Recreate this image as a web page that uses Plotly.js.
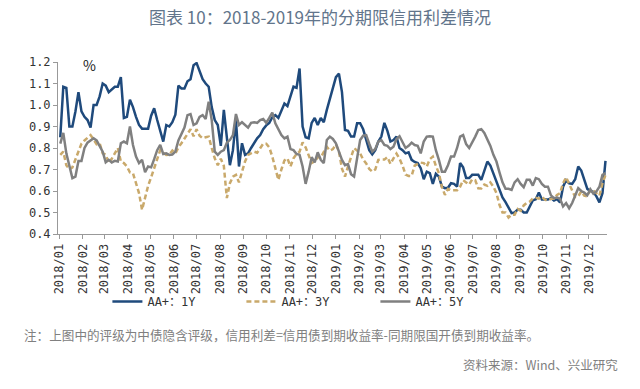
<!DOCTYPE html>
<html>
<head>
<meta charset="utf-8">
<script src="https://cdn.plot.ly/plotly-3.0.1.min.js"></script>
<style>html,body{margin:0;padding:0;background:#fff;}#chart{width:640px;height:389px;}</style>
</head>
<body>
<div id="chart"></div>
<script>
var dates = [
"2018-01-02","2018-01-06","2018-01-10","2018-01-14","2018-01-18","2018-01-22","2018-01-26","2018-01-30",
"2018-02-03","2018-02-07","2018-02-11","2018-02-15","2018-02-19","2018-02-23","2018-02-27",
"2018-03-03","2018-03-07","2018-03-11","2018-03-15","2018-03-19","2018-03-23","2018-03-27","2018-03-31",
"2018-04-04","2018-04-08","2018-04-12","2018-04-16","2018-04-20","2018-04-24","2018-04-28",
"2018-05-02","2018-05-06","2018-05-10","2018-05-14","2018-05-18","2018-05-22","2018-05-26","2018-05-30",
"2018-06-03","2018-06-07","2018-06-11","2018-06-15","2018-06-19","2018-06-23","2018-06-27",
"2018-07-01","2018-07-05","2018-07-09","2018-07-13","2018-07-17","2018-07-21","2018-07-25","2018-07-29",
"2018-08-02","2018-08-06","2018-08-10","2018-08-14","2018-08-18","2018-08-22","2018-08-26","2018-08-30",
"2018-09-03","2018-09-07","2018-09-11","2018-09-15","2018-09-19","2018-09-23","2018-09-27",
"2018-10-01","2018-10-05","2018-10-09","2018-10-13","2018-10-17","2018-10-21","2018-10-25","2018-10-29",
"2018-11-02","2018-11-06","2018-11-10","2018-11-14","2018-11-18","2018-11-22","2018-11-26","2018-11-30",
"2018-12-04","2018-12-08","2018-12-12","2018-12-16","2018-12-20","2018-12-24","2018-12-28",
"2019-01-01","2019-01-05","2019-01-09","2019-01-13","2019-01-17","2019-01-21","2019-01-25","2019-01-29",
"2019-02-02","2019-02-06","2019-02-10","2019-02-14","2019-02-18","2019-02-22","2019-02-26",
"2019-03-02","2019-03-06","2019-03-10","2019-03-14","2019-03-18","2019-03-22","2019-03-26","2019-03-30",
"2019-04-03","2019-04-07","2019-04-11","2019-04-15","2019-04-19","2019-04-23","2019-04-27",
"2019-05-01","2019-05-05","2019-05-09","2019-05-13","2019-05-17","2019-05-21","2019-05-25","2019-05-29",
"2019-06-02","2019-06-06","2019-06-10","2019-06-14","2019-06-18","2019-06-22","2019-06-26","2019-06-30",
"2019-07-04","2019-07-08","2019-07-12","2019-07-16","2019-07-20","2019-07-24","2019-07-28",
"2019-08-01","2019-08-05","2019-08-09","2019-08-13","2019-08-17","2019-08-21","2019-08-25","2019-08-29",
"2019-09-02","2019-09-06","2019-09-10","2019-09-14","2019-09-18","2019-09-22","2019-09-26","2019-09-30",
"2019-10-04","2019-10-08","2019-10-12","2019-10-16","2019-10-20","2019-10-24","2019-10-28",
"2019-11-01","2019-11-05","2019-11-09","2019-11-13","2019-11-17","2019-11-21","2019-11-25","2019-11-29",
"2019-12-03","2019-12-07","2019-12-11","2019-12-15","2019-12-19","2019-12-23"
];

var aa1y = [
0.85,1.085,1.08,0.90,0.90,0.97,1.06,0.97,0.945,0.93,
0.895,1.0,1.0,1.04,1.10,1.09,1.06,1.075,1.085,1.085,
1.13,0.94,0.945,1.025,0.99,0.945,0.907,0.89,0.89,0.89,
0.95,0.985,0.93,0.876,0.83,0.907,0.90,0.92,0.955,1.09,
1.077,1.077,1.11,1.12,1.185,1.195,1.16,1.12,1.10,1.085,
0.99,0.93,0.907,0.81,0.977,0.853,0.72,0.79,0.93,0.714,
0.822,0.768,0.775,0.80,0.822,0.845,0.86,0.887,0.905,0.917,
0.943,0.953,0.94,0.97,1.007,0.995,1.045,1.085,1.08,1.17,
0.90,0.85,0.845,0.917,0.94,0.907,0.94,0.92,0.977,1.027,
1.07,1.13,1.146,1.06,0.884,0.88,0.853,0.853,0.915,0.915,
0.887,0.84,0.79,0.77,0.79,0.83,0.853,0.917,0.88,0.83,
0.837,0.853,0.80,0.79,0.775,0.78,0.745,0.735,0.73,0.706,
0.655,0.69,0.683,0.633,0.68,0.667,0.62,0.613,0.615,0.636,
0.633,0.62,0.73,0.71,0.66,0.66,0.675,0.675,0.675,0.652,
0.69,0.737,0.718,0.68,0.636,0.60,0.57,0.548,0.525,0.497,
0.50,0.513,0.513,0.50,0.50,0.528,0.556,0.562,0.593,0.56,
0.56,0.56,0.567,0.556,0.562,0.547,0.62,0.65,0.636,0.633,
0.655,0.714,0.695,0.655,0.61,0.60,0.596,0.575,0.547,0.59,
0.74
];

var aa3y = [
0.768,0.783,0.72,0.70,0.71,0.745,0.788,0.82,0.835,0.85,
0.86,0.84,0.817,0.822,0.775,0.77,0.73,0.75,0.775,0.80,
0.737,0.73,0.714,0.686,0.683,0.64,0.59,0.513,0.57,0.624,
0.664,0.706,0.752,0.79,0.778,0.768,0.77,0.788,0.775,0.803,
0.822,0.845,0.87,0.887,0.855,0.887,0.857,0.845,0.85,0.853,
0.80,0.752,0.72,0.75,0.717,0.567,0.636,0.667,0.675,0.64,
0.69,0.737,0.768,0.775,0.783,0.778,0.80,0.82,0.82,0.803,
0.76,0.706,0.652,0.70,0.742,0.752,0.714,0.752,0.772,0.783,
0.826,0.803,0.768,0.73,0.737,0.757,0.757,0.785,0.806,0.788,
0.795,0.817,0.783,0.704,0.667,0.714,0.752,0.80,0.788,0.775,
0.746,0.728,0.703,0.69,0.70,0.745,0.746,0.746,0.758,0.726,
0.752,0.774,0.75,0.718,0.676,0.67,0.67,0.718,0.726,0.732,
0.73,0.714,0.748,0.76,0.717,0.683,0.618,0.582,0.61,0.603,
0.603,0.603,0.62,0.65,0.64,0.63,0.655,0.65,0.613,0.612,
0.63,0.624,0.64,0.62,0.59,0.536,0.50,0.50,0.477,0.49,
0.49,0.516,0.508,0.533,0.544,0.551,0.565,0.568,0.564,0.573,
0.56,0.555,0.564,0.564,0.582,0.59,0.636,0.664,0.633,0.598,
0.572,0.575,0.598,0.578,0.575,0.605,0.603,0.59,0.578,0.636,
0.675
];

var aa5y = [
0.82,0.87,0.775,0.72,0.66,0.667,0.74,0.74,0.80,0.825,
0.837,0.845,0.835,0.81,0.783,0.733,0.745,0.733,0.74,0.737,
0.822,0.83,0.822,0.90,0.814,0.76,0.73,0.745,0.687,0.714,
0.71,0.748,0.79,0.814,0.772,0.775,0.768,0.77,0.783,0.835,
0.868,0.895,0.953,0.958,0.907,0.915,0.945,0.953,0.935,1.015,
0.93,0.783,0.768,0.783,0.79,0.825,0.837,0.86,0.958,0.907,
0.92,0.905,0.895,0.917,0.92,0.917,0.93,0.935,0.917,0.94,
0.965,0.915,0.89,0.86,0.845,0.853,0.795,0.79,0.772,0.768,
0.714,0.633,0.69,0.757,0.733,0.78,0.745,0.73,0.837,0.853,
0.842,0.822,0.783,0.745,0.72,0.725,0.678,0.667,0.752,0.837,
0.857,0.86,0.82,0.783,0.795,0.83,0.837,0.814,0.81,0.795,
0.806,0.842,0.855,0.83,0.80,0.81,0.825,0.814,0.81,0.775,
0.83,0.853,0.855,0.853,0.79,0.745,0.69,0.69,0.72,0.76,
0.76,0.80,0.853,0.86,0.818,0.80,0.825,0.853,0.884,0.888,
0.87,0.842,0.81,0.768,0.737,0.687,0.64,0.61,0.61,0.605,
0.64,0.655,0.633,0.618,0.652,0.652,0.625,0.66,0.655,0.633,
0.62,0.62,0.58,0.567,0.57,0.564,0.528,0.544,0.52,0.544,
0.578,0.613,0.60,0.593,0.58,0.608,0.587,0.598,0.62,0.675,
0.683
];

var seriesNames = ["AA+：1Y", "AA+：3Y", "AA+：5Y"];
var titleText = "图表 10：2018-2019年的分期限信用利差情况";
var unitText = "%";
var noteText = "注：上图中的评级为中债隐含评级，信用利差=信用债到期收益率-同期限国开债到期收益率。";
var sourceText = "资料来源：Wind、兴业研究";

var monoFont = "DejaVu Sans Mono, Noto Sans CJK SC, monospace";
var cjkFont = "Noto Sans CJK SC, Noto Sans, sans-serif";

var traces = [
  {x: dates, y: aa1y, name: seriesNames[0], type: "scatter", mode: "lines",
   line: {color: "#1f4a7c", width: 2.5}},
  {x: dates, y: aa3y, name: seriesNames[1], type: "scatter", mode: "lines",
   line: {color: "#c9a96b", width: 2.5, dash: "5px,3px"}},
  {x: dates, y: aa5y, name: seriesNames[2], type: "scatter", mode: "lines",
   line: {color: "#808080", width: 2.5}}
];

var layout = {
  width: 640, height: 389,
  margin: {l: 58, r: 33, t: 61.5, b: 154.7, pad: 0},
  paper_bgcolor: "#ffffff", plot_bgcolor: "#ffffff",
  showlegend: true,
  title: {text: titleText, x: 0.5, xref: "container", xanchor: "center",
          y: 0.954, yref: "container", yanchor: "middle",
          font: {family: cjkFont, size: 17, color: "#62758b"}},
  xaxis: {type: "date", range: ["2017-12-30", "2019-12-25"],
          tick0: "2018-01-01", dtick: "M1", tickformat: "%Y/%m", tickangle: -90,
          ticks: "outside", ticklen: 4, tickcolor: "#999", tickwidth: 1,
          showline: true, linecolor: "#999", linewidth: 1,
          showgrid: false, zeroline: false,
          tickfont: {family: monoFont, size: 12, color: "#333"}},
  yaxis: {range: [0.4, 1.2], dtick: 0.1, tick0: 0.4, tickformat: ".1f",
          ticks: "outside", ticklen: 4, tickcolor: "#999", tickwidth: 1,
          showline: true, linecolor: "#999", linewidth: 1,
          showgrid: false, zeroline: false,
          tickfont: {family: monoFont, size: 12, color: "#333"}},
  legend: {orientation: "h", x: 0.09, xanchor: "left", y: -0.392, yanchor: "middle",
           entrywidth: 89, entrywidthmode: "pixels",
           font: {family: monoFont, size: 12, color: "#333"},
           bgcolor: "rgba(0,0,0,0)"},
  annotations: [
    {text: unitText, xref: "paper", yref: "paper", x: 0.058, y: 0.985,
     xanchor: "center", yanchor: "middle", showarrow: false,
     font: {family: cjkFont, size: 14, color: "#222"}},
    {text: noteText, xref: "paper", yref: "paper", x: -0.0656, y: -0.583,
     xanchor: "left", yanchor: "middle", showarrow: false,
     font: {family: cjkFont, size: 12.6, color: "#808080"}},
    {text: sourceText, xref: "paper", yref: "paper", x: 1.0237, y: -0.756,
     xanchor: "right", yanchor: "middle", showarrow: false,
     font: {family: cjkFont, size: 12.5, color: "#808080"}}
  ]
};

Plotly.newPlot("chart", traces, layout, {displayModeBar: false, staticPlot: true});
</script>
</body>
</html>
